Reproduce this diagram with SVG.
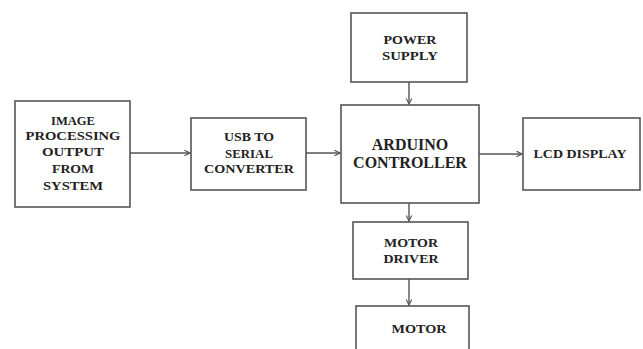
<svg xmlns="http://www.w3.org/2000/svg" width="643" height="349" viewBox="0 0 643 349">
<defs>
<style>
.box{fill:#fff;stroke:#555;stroke-width:1.6}
.t{font-family:"Liberation Serif",serif;font-weight:bold;font-size:12.5px;fill:#222;text-anchor:middle}
.tb{font-family:"Liberation Serif",serif;font-weight:bold;font-size:16px;fill:#222;text-anchor:middle}
.c{stroke:#555;stroke-width:1.4;fill:none;marker-end:url(#ah)}
</style>
<marker id="ah" viewBox="0 0 10 10" refX="9" refY="5" markerWidth="7" markerHeight="7" markerUnits="userSpaceOnUse" orient="auto">
<path d="M1,1 L9,5 L1,9" fill="none" stroke="#555" stroke-width="1.6"/>
</marker>
</defs>
<rect width="643" height="349" fill="#fff"/>
<g id="connectors">
<line class="c" x1="130" y1="153" x2="190" y2="153"/>
<line class="c" x1="306" y1="153" x2="340" y2="153"/>
<line class="c" x1="409" y1="82" x2="409" y2="104"/>
<line class="c" x1="479" y1="154" x2="522" y2="154"/>
<line class="c" x1="409" y1="203" x2="409" y2="221"/>
<line class="c" x1="409" y1="279" x2="409" y2="305"/>
</g>
<g id="image-processing">
<rect class="box" x="15" y="101" width="115" height="106"/>
<text class="t" x="73" y="125" textLength="44" lengthAdjust="spacingAndGlyphs">IMAGE</text>
<text class="t" x="73" y="140" textLength="95" lengthAdjust="spacingAndGlyphs">PROCESSING</text>
<text class="t" x="73" y="156" textLength="62" lengthAdjust="spacingAndGlyphs">OUTPUT</text>
<text class="t" x="73" y="173" textLength="42" lengthAdjust="spacingAndGlyphs">FROM</text>
<text class="t" x="73" y="190" textLength="60" lengthAdjust="spacingAndGlyphs">SYSTEM</text>
</g>
<g id="usb-serial">
<rect class="box" x="191" y="118" width="115" height="72"/>
<text class="t" x="249" y="141" textLength="50" lengthAdjust="spacingAndGlyphs">USB TO</text>
<text class="t" x="249" y="158" textLength="48" lengthAdjust="spacingAndGlyphs">SERIAL</text>
<text class="t" x="249" y="173" textLength="90" lengthAdjust="spacingAndGlyphs">CONVERTER</text>
</g>
<g id="power-supply">
<rect class="box" x="351" y="13" width="116" height="69"/>
<text class="t" x="410" y="44" textLength="53" lengthAdjust="spacingAndGlyphs">POWER</text>
<text class="t" x="410" y="60" textLength="56" lengthAdjust="spacingAndGlyphs">SUPPLY</text>
</g>
<g id="arduino">
<rect class="box" x="341" y="105" width="138" height="98"/>
<text class="tb" x="410" y="150">ARDUINO</text>
<text class="tb" x="410" y="168">CONTROLLER</text>
</g>
<g id="lcd">
<rect class="box" x="523" y="118" width="117" height="72"/>
<text class="t" x="580" y="158" textLength="93" lengthAdjust="spacingAndGlyphs">LCD DISPLAY</text>
</g>
<g id="motor-driver">
<rect class="box" x="353" y="222" width="115" height="57"/>
<text class="t" x="411" y="247" textLength="54" lengthAdjust="spacingAndGlyphs">MOTOR</text>
<text class="t" x="411" y="263" textLength="55" lengthAdjust="spacingAndGlyphs">DRIVER</text>
</g>
<g id="motor">
<rect class="box" x="356" y="306" width="113" height="60"/>
<text class="t" x="419" y="333" textLength="55" lengthAdjust="spacingAndGlyphs">MOTOR</text>
</g>
</svg>
